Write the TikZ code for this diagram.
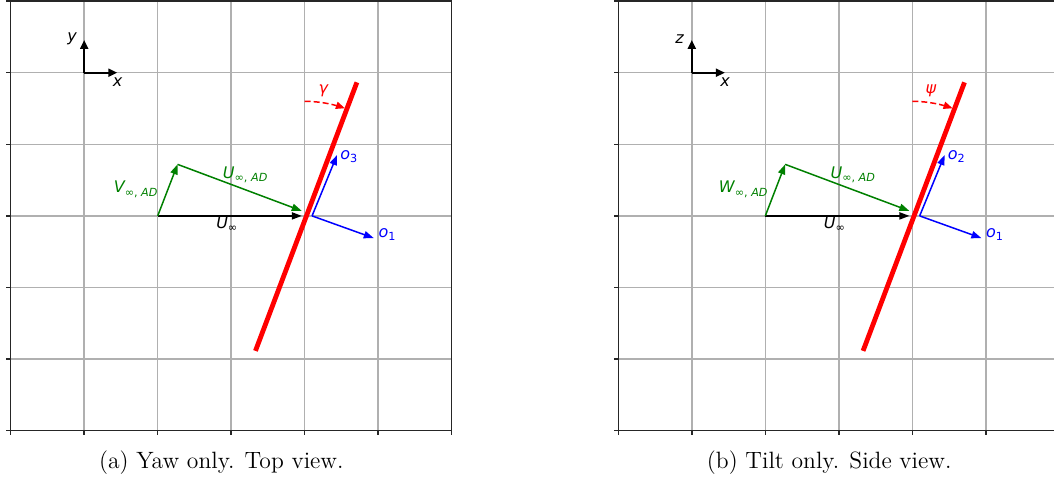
\documentclass[tikz,border=0pt]{standalone}
\usepackage{fontspec}
\usetikzlibrary{arrows.meta}
\newfontfamily\dvfont{DejaVu Sans}
\definecolor{mplgreen}{HTML}{008000}
\definecolor{mplblue}{HTML}{0000FF}
\definecolor{mplred}{HTML}{FF0000}
\definecolor{gridgray}{HTML}{B0B0B0}
\newcommand\lsub[1]{\raisebox{-1.6pt}{\fontsize{5.6}{6}\selectfont\upshape #1}}
\tikzset{
  gridline/.style={draw=gridgray, line width=0.75pt},
  spine/.style={draw=black!85, line width=0.75pt},
  arr/.style={line width=0.75pt, -{Triangle[length=5pt,width=3.6pt]}},
  axarrow/.style={line width=1pt, black, -{Triangle[length=4.5pt,width=4pt]}},
  blade/.style={draw=mplred, line width=2.4pt},
  anglearc/.style={draw=mplred, line width=0.75pt, dash pattern=on 3pt off 1.5pt, -{Triangle[length=4.5pt,width=3.6pt]}},
  lab/.style={font=\dvfont\itshape\fontsize{8}{9.6}\selectfont, inner sep=0pt},
  caption/.style={font=\fontsize{11.8}{14}\selectfont, inner sep=0pt, anchor=base},
}
\newcommand\drawpanel[6]{%
\begin{scope}[shift={(#2,26.65pt)}, x=36.75pt, y=35.8pt]
  \foreach \i in {1,...,5}{
    \draw[gridline] (\i,0) -- (\i,6);
    \draw[gridline] (0,\i) -- (6,\i);
  }
  \foreach \i in {0,...,6}{
    \draw[spine] (\i,0) -- ++(0,-2.2pt);
    \draw[spine] (0,\i) -- ++(-2.2pt,0);
  }
  \draw[spine] (0,0) rectangle (6,6);
  % coordinate glyph
  \coordinate (#1-ax) at (1,5);
  \coordinate (#1-axx) at (1.45,5);
  \coordinate (#1-axy) at (1,5.457);
  \draw[axarrow] (#1-ax) -- (#1-axx);
  \draw[axarrow] (#1-ax) -- (#1-axy);
  \node[lab] (#1-xl) at (1.453,4.87) {x};
  \node[lab] (#1-yl) at (0.834,5.47) {#3};
  % velocity triangle
  \coordinate (#1-u0) at (2,3);
  \coordinate (#1-u1) at (3.96,3);
  \coordinate (#1-v1) at (2.27,3.72);
  \coordinate (#1-a1) at (3.96,3.07);
  \draw[arr,black] (#1-u0) -- (#1-u1);
  \draw[arr,mplgreen] (#1-u0) -- (#1-v1);
  \draw[arr,mplgreen] (#1-v1) -- (#1-a1);
  \node[lab] (#1-ul) at (2.94,2.88) {U\lsub{∞}};
  \node[lab,mplgreen] (#1-vl) at (1.70,3.37) {#4\lsub{∞, \itshape AD}};
  \node[lab,mplgreen] (#1-al) at (3.19,3.57) {U\lsub{∞, \itshape AD}};
  % blade
  \coordinate (#1-b0) at (3.33,1.115);
  \coordinate (#1-b1) at (4.71,4.865);
  \draw[blade] (#1-b0) -- (#1-b1);
  % local frame
  \coordinate (#1-o) at (4.10,3.0);
  \coordinate (#1-on) at (4.44,3.85);
  \coordinate (#1-o1) at (4.94,2.69);
  \draw[arr,mplblue] (#1-o) -- (#1-on);
  \draw[arr,mplblue] (#1-o) -- (#1-o1);
  \node[lab,mplblue] (#1-onl) at (4.60,3.83) {o\lsub{#5}};
  \node[lab,mplblue] (#1-o1l) at (5.12,2.74) {o\lsub{1}};
  % angle
  \coordinate (#1-c) at (4,3);
  \draw[anglearc] plot[domain=90:70, samples=20] ({4+1.6*cos(\x)},{3+1.6*sin(\x)});
  \node[lab,mplred] (#1-gl) at (4.253,4.75) {#6};
\end{scope}}
\begin{document}
\begin{tikzpicture}[x=0.5pt,y=0.5pt]
  \useasboundingbox (0,0) rectangle (1054,484);
  \clip (0,0) rectangle (1054,484);
  \drawpanel{a}{5.35pt}{y}{V}{3}{γ}
  \drawpanel{b}{309.15pt}{z}{W}{2}{ψ}
  \node[caption] (capa) at (221.3,15.7) {(a) Yaw only. Top view.};
  \node[caption] (capb) at (829.2,15.7) {(b) Tilt only. Side view.};
\end{tikzpicture}
\end{document}
